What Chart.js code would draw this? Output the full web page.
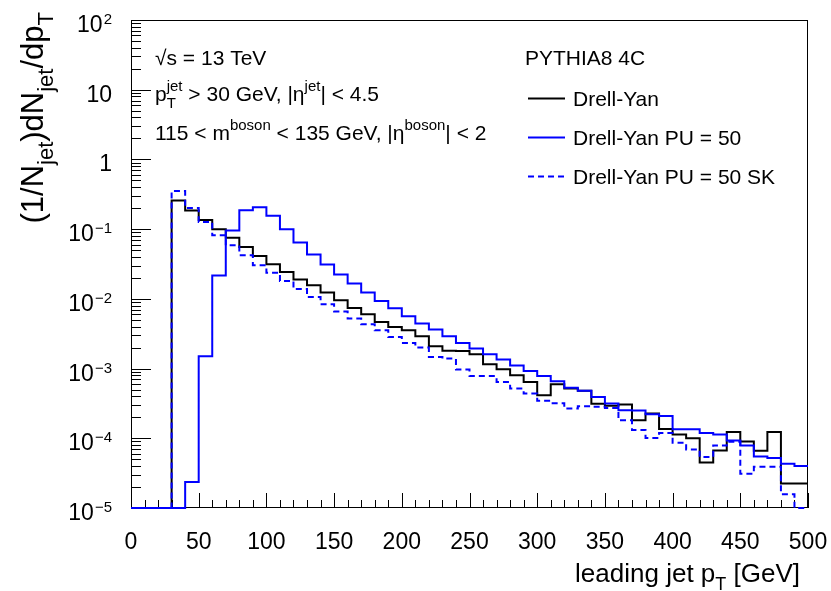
<!DOCTYPE html>
<html>
<head>
<meta charset="utf-8">
<title>Leading jet pT</title>
<script src="https://cdn.jsdelivr.net/npm/chart.js@4.4.0/dist/chart.umd.min.js"></script>
<style>
  html, body { margin: 0; padding: 0; background: #fff; }
</style>
</head>
<body>
<canvas id="ptChart" width="831" height="591"></canvas>
<script>
// Histogram bins: lower edges [GeV], last upper edge is xMax
const binLow = [0, 10, 20, 30, 40, 50, 60, 70, 80, 90,
    100, 110, 120, 130, 140, 150, 160, 170, 180, 190,
    200, 210, 220, 230, 240, 250, 260, 270, 280, 290,
    300, 310, 320, 330, 340, 350, 360, 370, 380, 390,
    400, 410, 420, 430, 440, 450, 460, 470, 480, 490];
const xMax = 500;

// Drell-Yan (no pile-up)
const dyValues = [1e-5, 1e-5, 1e-5, 0.257, 0.185, 0.135, 0.100, 0.075, 0.0556, 0.0413,
    0.0313, 0.0243, 0.0189, 0.0157, 0.0123, 0.00955, 0.0074, 0.0060, 0.00467, 0.00395,
    0.00354, 0.0029, 0.00209, 0.00180, 0.00178, 0.0016, 0.00115, 0.00098, 0.0008, 0.000643,
    0.000414, 0.000596, 0.000516, 0.000482, 0.000312, 0.000294, 0.000304, 0.000181, 0.000226, 0.000136,
    0.000113, 0.0001, 4.5e-5, 6.7e-5, 0.000123, 9.0e-5, 6.6e-5, 0.000123, 2.24e-5, 2.24e-5];

// Drell-Yan PU = 50
const puValues = [1e-5, 1e-5, 1e-5, 1e-5, 2.36e-5, 0.0015, 0.0216, 0.096, 0.187, 0.206,
    0.155, 0.100, 0.0643, 0.0433, 0.031, 0.0223, 0.0166, 0.0123, 0.00933, 0.00733,
    0.00562, 0.00443, 0.00363, 0.0029, 0.00233, 0.00194, 0.0016, 0.00135, 0.00111, 0.00092,
    0.00078, 0.00066, 0.00053, 0.00048, 0.00039, 0.000315, 0.000252, 0.000250, 0.000222, 0.000209,
    0.000135, 0.000135, 0.000119, 0.000113, 9.3e-5, 7.9e-5, 5.5e-5, 5.2e-5, 4.3e-5, 4.0e-5];

// Drell-Yan PU = 50 SK
const skValues = [1e-5, 1e-5, 1e-5, 0.353, 0.201, 0.127, 0.082, 0.0587, 0.0423, 0.0303,
    0.0236, 0.0181, 0.0138, 0.0106, 0.00835, 0.00658, 0.00521, 0.00433, 0.00354, 0.00284,
    0.00233, 0.0020, 0.00147, 0.00139, 0.00097, 0.00078, 0.00078, 0.000643, 0.000516, 0.000438,
    0.000345, 0.000318, 0.000267, 0.000288, 0.000284, 0.000271, 0.000181, 0.000132, 0.000101, 0.000119,
    8.6e-5, 6.9e-5, 5.4e-5, 7.9e-5, 8.9e-5, 3.1e-5, 3.9e-5, 3.9e-5, 1.57e-5, 1e-5];

// Axis ticks
const xTickValues = [0, 50, 100, 150, 200, 250, 300, 350, 400, 450, 500];
const yTickValues = [1e-5, 1e-4, 1e-3, 1e-2, 1e-1, 1, 10, 100];
const yTickBase = ['10', '10', '10', '10', '10', '1', '10', '10'];
const yTickExp = ['\u22125', '\u22124', '\u22123', '\u22122', '\u22121', '', '', '2'];

const FONT = '"Liberation Sans", Arial, Helvetica, sans-serif';

// Turn bin contents into step points (extra point closes the last bin)
function histPoints(vals) {
    const pts = binLow.map((x, i) => ({ x: x, y: vals[i] }));
    pts.push({ x: xMax, y: vals[vals.length - 1] });
    return pts;
}

// Draw text made of plain / superscript / subscript pieces, returns end x
function richText(c, x, y, parts, size, doDraw, ratio) {
    const small = Math.round(size * (ratio || 0.7));
    for (const p of parts) {
        if (typeof p === 'string') {
            c.font = size + 'px ' + FONT;
            if (doDraw) c.fillText(p, x, y);
            x += c.measureText(p).width;
        } else {
            c.font = small + 'px ' + FONT;
            let w = 0;
            if (p.sup) {
                if (doDraw) c.fillText(p.sup, x, y - size * 0.48);
                w = c.measureText(p.sup).width;
            }
            if (p.sub) {
                if (doDraw) c.fillText(p.sub, x, y + size * 0.32);
                w = Math.max(w, c.measureText(p.sub).width);
            }
            x += w;
        }
    }
    return x;
}

// ROOT-like frame and inward ticks, drawn under the histograms
const rootFrame = {
    id: 'rootFrame',
    beforeDatasetsDraw(chart) {
        const c = chart.ctx;
        const a = chart.chartArea;
        const xs = chart.scales.x;
        const ys = chart.scales.y;
        c.save();
        c.strokeStyle = '#000';
        c.lineWidth = 1;
        c.strokeRect(a.left + 0.5, a.top + 0.5, a.right - a.left - 1, a.bottom - a.top - 1);

        c.beginPath();
        // x ticks (minor every 10, major every 50)
        for (let v = 0; v <= xMax; v += 10) {
            const px = Math.round(xs.getPixelForValue(v)) + 0.5;
            const len = v % 50 === 0 ? 15 : 8;
            c.moveTo(px, a.bottom);
            c.lineTo(px, a.bottom - len);
        }
        // y ticks (log: 1..9 per decade)
        for (let d = -5; d <= 2; d++) {
            for (let m = 1; m <= 9; m++) {
                const v = m * Math.pow(10, d);
                if (v > 100.0001) break;
                const py = Math.round(ys.getPixelForValue(v)) + 0.5;
                const len = m === 1 ? 20 : 10;
                c.moveTo(a.left, py);
                c.lineTo(a.left + len, py);
            }
        }
        c.stroke();
        c.restore();
    }
};

// Labels, titles, annotation and legend
const rootText = {
    id: 'rootText',
    afterDraw(chart) {
        const c = chart.ctx;
        const a = chart.chartArea;
        const xs = chart.scales.x;
        const ys = chart.scales.y;
        c.save();
        c.fillStyle = '#000';

        // x tick labels
        c.textAlign = 'center';
        c.textBaseline = 'alphabetic';
        c.font = '23px ' + FONT;
        xTickValues.forEach(v => {
            c.fillText(String(v), xs.getPixelForValue(v), a.bottom + 41);
        });

        // y tick labels with exponents, right aligned
        c.textAlign = 'left';
        yTickValues.forEach((v, i) => {
            const py = ys.getPixelForValue(v);
            c.font = '23px ' + FONT;
            const wb = c.measureText(yTickBase[i]).width;
            c.font = '15px ' + FONT;
            const we = yTickExp[i] ? c.measureText(yTickExp[i]).width + 1 : 0;
            const x0 = 112 - wb - we;
            c.font = '23px ' + FONT;
            c.fillText(yTickBase[i], x0, py + 12);
            if (yTickExp[i]) {
                c.font = '15px ' + FONT;
                c.fillText(yTickExp[i], x0 + wb + 1, py + 4);
            }
        });

        // x axis title, right aligned to the frame
        const xt = ['leading jet p', { sub: 'T' }, ' [GeV]'];
        const xw = richText(c, 0, 0, xt, 26, false);
        richText(c, a.right - 8 - xw, 582, xt, 26, true);

        // y axis title, rotated, right aligned to the top
        const yt = ['(1/N', { sub: 'jet' }, ')dN', { sub: 'jet' }, '/dp', { sub: 'T' }];
        const yw = richText(c, 0, 0, yt, 31, false);
        c.save();
        c.translate(43, a.top - 8);
        c.rotate(-Math.PI / 2);
        richText(c, -yw, 0, yt, 31, true);
        c.restore();

        // physics annotation
        const fs = 21;
        richText(c, 155, 65, ['\u221As = 13 TeV'], fs, true);
        richText(c, 155, 101, ['p', { sup: 'jet', sub: 'T' }, ' > 30 GeV, |\u03B7', { sup: 'jet' }, '| < 4.5'], fs, true);
        richText(c, 155, 140, ['115 < m', { sup: 'boson' }, ' < 135 GeV, |\u03B7', { sup: 'boson' }, '| < 2'], fs, true);

        // legend
        c.font = '21px ' + FONT;
        c.fillText('PYTHIA8 4C', 525, 65);
        const rowsY = [98, 137, 176];
        chart.data.datasets.forEach((ds, i) => {
            const ly = rowsY[i] + 0.5;
            c.beginPath();
            c.strokeStyle = ds.borderColor;
            c.lineWidth = ds.borderWidth;
            c.setLineDash(ds.borderDash || []);
            c.moveTo(528, ly);
            c.lineTo(565, ly);
            c.stroke();
            c.setLineDash([]);
            c.fillStyle = '#000';
            c.font = '21px ' + FONT;
            c.fillText(ds.label, 573, rowsY[i] + 8);
        });
        c.restore();
    }
};

const ctx = document.getElementById('ptChart').getContext('2d');
new Chart(ctx, {
    type: 'line',
    data: {
        datasets: [{
            label: 'Drell-Yan',
            data: histPoints(dyValues),
            borderColor: '#000000',
            borderWidth: 2,
            stepped: true,
            pointRadius: 0,
            fill: false,
            clip: 3,
            order: 3
        }, {
            label: 'Drell-Yan PU = 50',
            data: histPoints(puValues),
            borderColor: '#0000ff',
            borderWidth: 2,
            stepped: true,
            pointRadius: 0,
            fill: false,
            clip: 3,
            order: 2
        }, {
            label: 'Drell-Yan PU = 50 SK',
            data: histPoints(skValues),
            borderColor: '#0000ff',
            borderWidth: 2,
            borderDash: [6, 4],
            stepped: true,
            pointRadius: 0,
            fill: false,
            clip: 3,
            order: 1
        }]
    },
    options: {
        responsive: false,
        animation: false,
        layout: { padding: { left: 131, top: 20, right: 23, bottom: 83 } },
        plugins: {
            legend: { display: false },
            tooltip: { enabled: false }
        },
        scales: {
            x: { type: 'linear', min: 0, max: xMax, display: false },
            y: { type: 'logarithmic', min: 1e-5, max: 100, display: false }
        }
    },
    plugins: [rootFrame, rootText]
});
</script>
</body>
</html>
